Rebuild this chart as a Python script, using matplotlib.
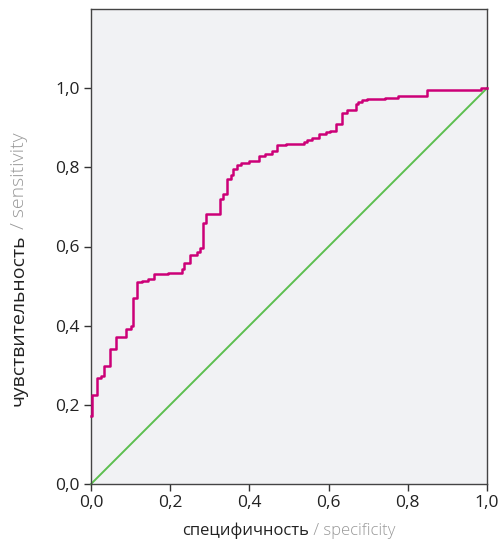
import matplotlib
matplotlib.use("Agg")
import matplotlib.pyplot as plt
from matplotlib.ticker import FuncFormatter

# ROC curve: x where the step happens, y level after it
fpr = [0.0, 0.003, 0.015, 0.026, 0.032, 0.049, 0.063, 0.089, 0.102, 0.106,
       0.115, 0.128, 0.143, 0.158, 0.195, 0.229, 0.235, 0.251, 0.267, 0.275,
       0.284, 0.290, 0.326, 0.333, 0.343, 0.353, 0.358, 0.369, 0.379, 0.399,
       0.424, 0.439, 0.458, 0.470, 0.492, 0.538, 0.546, 0.559, 0.577, 0.593,
       0.604, 0.618, 0.635, 0.646, 0.668, 0.675, 0.684, 0.696, 0.742, 0.776,
       0.849, 0.984, 1.0]
tpr = [0.172, 0.225, 0.269, 0.274, 0.299, 0.342, 0.371, 0.392, 0.398, 0.470,
       0.511, 0.514, 0.518, 0.531, 0.534, 0.544, 0.559, 0.578, 0.586, 0.595,
       0.660, 0.681, 0.719, 0.733, 0.770, 0.780, 0.797, 0.806, 0.810, 0.816,
       0.829, 0.833, 0.841, 0.856, 0.859, 0.865, 0.870, 0.874, 0.884, 0.888,
       0.891, 0.909, 0.937, 0.944, 0.961, 0.965, 0.970, 0.972, 0.976, 0.981,
       0.995, 1.0, 1.0]
diag = [0.0, 1.0]
ticks = [0.0, 0.2, 0.4, 0.6, 0.8, 1.0]

plt.rcParams['font.family'] = ['Open Sans', 'DejaVu Sans']

fig = plt.figure(figsize=(5.02, 5.44), dpi=100)
ax = fig.add_axes([91 / 502, 1 - 484 / 544, 396 / 502, 475 / 544])
ax.set_facecolor('#f1f2f4')

ax.plot(diag, diag, color='#5cbf4f', lw=1.4, clip_on=False, zorder=2)
ax.plot(fpr, tpr, drawstyle='steps-post', color='#cc0077', lw=1.8,
        clip_on=False, zorder=3)

ax.set_xlim(0, 1)
ax.set_ylim(0, 1.2)
ax.set_xticks(ticks)
ax.set_yticks(ticks)
fmt = FuncFormatter(lambda v, p: f"{v:.1f}".replace('.', ','))
ax.xaxis.set_major_formatter(fmt)
ax.yaxis.set_major_formatter(fmt)
ax.tick_params(length=5, width=1, color='#333333', labelcolor='#222222',
               labelsize=12.5, pad=3)
for s in ax.spines.values():
    s.set_color('#444444')
    s.set_linewidth(1)

# two-tone axis labels
xl = fig.text(182 / 502, 1 - 531 / 544, 'специфичность', ha='left', va='center',
              fontsize=12, color='#222222')
ax.annotate(' / specificity', xy=(1, 0), xycoords=xl, ha='left', va='bottom',
            fontsize=12, color='#999999', fontweight='light')
yl = fig.text(19 / 502, 1 - 406 / 544, 'чувствительность', ha='center', va='bottom',
              rotation=90, fontsize=14, color='#222222')
ax.annotate(' / sensitivity', xy=(0.5, 1), xycoords=yl, ha='center', va='bottom',
            rotation=90, fontsize=14, color='#999999', fontweight='light')

fig.savefig('out.png', dpi=100)
